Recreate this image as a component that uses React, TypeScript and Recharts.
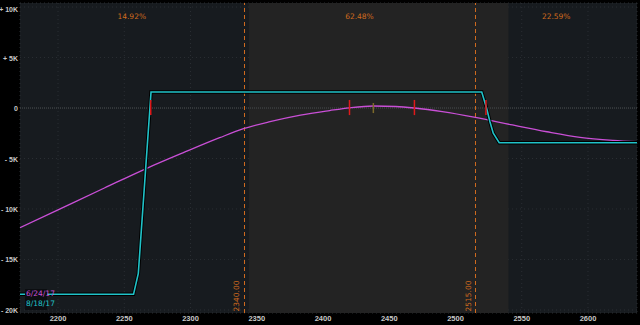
import React from 'react';
import {
  ComposedChart,
  Line,
  XAxis,
  YAxis,
  CartesianGrid,
  ReferenceLine,
  ReferenceArea,
  ReferenceDot,
} from 'recharts';

// ---- data ----
const xTicks = [2200, 2250, 2300, 2350, 2400, 2450, 2500, 2550, 2600];
const yTicks = [-20000, -15000, -10000, -5000, 0, 5000, 10000];

// expiry (8/18/17) P/L profile
const expiryPrices = [2171.3, 2257, 2260.6, 2270.2, 2519.8, 2523.5, 2526, 2528.5, 2533, 2637];
const expiryPnl = [-18450, -18450, -16370, 1580, 1580, -30, -1360, -2500, -3440, -3440];

// T+0 (6/24/17) P/L curve
const t0Prices = [2171.3, 2200, 2235, 2267, 2295, 2322, 2340, 2360, 2383, 2405, 2420, 2438, 2455, 2469, 2490, 2515, 2543, 2569, 2594, 2619, 2637];
const t0Pnl = [-11850, -10080, -7920, -5970, -4400, -2940, -2050, -1350, -700, -250, 20, 200, 150, 0, -350, -920, -1680, -2350, -2900, -3200, -3340];

// markers
const breakevens = [2270, 2420, 2469, 2523];
const currentPrice = 2438;
const sdLines = [2340, 2515];
const sdLabels = ['2340.00', '2515.00'];
const bandRange = [2344, 2540];
const xDomain = [2171.3, 2637];
const yDomain = [-20300, 10400];
const regionPcts = ['14.92%', '62.48%', '22.59%'];
const seriesNames = ['6/24/17', '8/18/17'];

const expiryData = expiryPrices.map((x, i) => ({ x, y: expiryPnl[i] }));
const t0Data = t0Prices.map((x, i) => ({ x, y: t0Pnl[i] }));

const ORANGE = '#cf6a1e';
const CYAN = '#20c2c8';
const MAGENTA = '#c94fd6';
const FONT = '"DejaVu Sans", sans-serif';
const TICKFONT = '"Liberation Sans", Arial, sans-serif';

const fmtY = (v: number) => {
  if (v === 0) return '0';
  const k = Math.abs(v) / 1000;
  return (v > 0 ? '+ ' : '- ') + k + 'K';
};

const YTick = (props: any) => {
  const { x, y, payload } = props;
  return (
    <text
      x={x}
      y={y + 0.5}
      textAnchor="end"
      dominantBaseline="central"
      fill="#c8c8c8"
      fontSize={7}
      fontWeight="bold"
      fontFamily={TICKFONT}
    >
      {fmtY(payload.value)}
    </text>
  );
};

const makeRotLabel = (text: string) => (props: any) => {
  const vb = props.viewBox || {};
  const cx = vb.x - 7;
  const cy = vb.y + vb.height - 17;
  return (
    <text
      x={cx}
      y={cy}
      transform={`rotate(-90 ${cx} ${cy})`}
      textAnchor="middle"
      dominantBaseline="central"
      fill={ORANGE}
      fontSize={7.5}
      fontFamily={FONT}
    >
      {text}
    </text>
  );
};

const DashedShape = (p: any) => (
  <line
    x1={Math.round(p.x1) + 0.5}
    y1={p.y1}
    x2={Math.round(p.x2) + 0.5}
    y2={p.y2}
    stroke={ORANGE}
    strokeWidth={1}
    strokeDasharray="4 3"
    fill="none"
  />
);

const regionMids = [
  (xDomain[0] + sdLines[0]) / 2,
  (sdLines[0] + sdLines[1]) / 2,
  (sdLines[1] + xDomain[1]) / 2,
];

const PctLabel = (text: string) => (props: any) => {
  const vb = props.viewBox || {};
  const cx = vb.x + (vb.width || 0) / 2;
  return (
    <text
      x={cx}
      y={vb.y + 13}
      textAnchor="middle"
      dominantBaseline="central"
      fill={ORANGE}
      fontSize={7.5}
      fontFamily={FONT}
    >
      {text}
    </text>
  );
};

export default function App() {
  return (
    <div style={{ position: 'absolute', left: 0, top: 0, width: 640, height: 325, background: '#000' }}>
      <ComposedChart
        width={640}
        height={325}
        margin={{ top: 3, right: 3, left: 0, bottom: 0 }}
        style={{ background: '#000' }}
      >
        <CartesianGrid
          fill="#171b1f"
          stroke="#2a2e33"
          strokeDasharray="1 3"
        />
        <XAxis
          type="number"
          dataKey="x"
          domain={xDomain}
          ticks={xTicks}
          allowDataOverflow
          height={12}
          tickSize={0}
          tickMargin={3}
          axisLine={false}
          tick={{ fill: '#c8c8c8', fontSize: 7.5, fontFamily: TICKFONT, fontWeight: 'bold' }}
        />
        <YAxis
          type="number"
          dataKey="y"
          domain={yDomain}
          ticks={yTicks}
          allowDataOverflow
          width={20}
          tickSize={0}
          tickMargin={2}
          axisLine={false}
          tick={<YTick />}
        />
        <ReferenceArea
          x1={bandRange[0]}
          x2={bandRange[1]}
          fill="#232323"
          fillOpacity={1}
          stroke="none"
          strokeWidth={0}
          ifOverflow="hidden"
        />
        {regionMids.map((m, i) => (
          <ReferenceDot
            key={'p' + i}
            x={m}
            y={yDomain[1]}
            r={0}
            fill="none"
            stroke="none"
            label={PctLabel(regionPcts[i])}
          />
        ))}
        <ReferenceLine y={0} stroke="#4a4d50" strokeDasharray="1 1" />
        {sdLines.map((x, i) => (
          <ReferenceLine
            key={'sd' + i}
            x={x}
            stroke={ORANGE}
            shape={DashedShape}
            label={makeRotLabel(sdLabels[i])}
          />
        ))}
        <Line
          data={t0Data}
          dataKey="y"
          type="monotone"
          stroke={MAGENTA}
          strokeWidth={1.3}
          dot={false}
          isAnimationActive={false}
        />
        <Line
          data={expiryData}
          dataKey="y"
          type="linear"
          stroke="#000"
          strokeWidth={3.5}
          dot={false}
          isAnimationActive={false}
        />
        <Line
          data={expiryData}
          dataKey="y"
          type="linear"
          stroke={CYAN}
          strokeWidth={1.6}
          dot={false}
          isAnimationActive={false}
        />
        {breakevens.map((x, i) => (
          <ReferenceLine
            key={'be' + i}
            segment={[{ x, y: 800 }, { x, y: -700 }]}
            stroke="#e0191b"
            strokeWidth={1.5}
          />
        ))}
        <ReferenceLine
          segment={[{ x: currentPrice, y: 500 }, { x: currentPrice, y: -500 }]}
          stroke="#7d6a2a"
          strokeWidth={1.5}
        />
      </ComposedChart>
      <div
        style={{
          position: 'absolute',
          left: 25,
          top: 289,
          width: 22,
          height: 21,
          background: '#0c0e11',
          fontFamily: FONT,
          fontSize: 7.5,
          lineHeight: '10px',
          paddingLeft: 1,
          boxSizing: 'border-box',
        }}
      >
        <div style={{ color: MAGENTA }}>{seriesNames[0]}</div>
        <div style={{ color: CYAN }}>{seriesNames[1]}</div>
      </div>
    </div>
  );
}
